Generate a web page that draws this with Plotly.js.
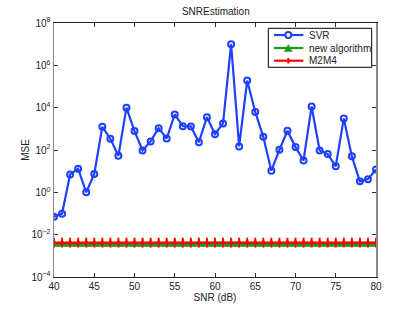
<!DOCTYPE html>
<html><head><meta charset="utf-8">
<script src="https://cdn.plot.ly/plotly-3.0.1.min.js"></script>
<style>html,body{margin:0;padding:0;background:#fff}#c{width:415px;height:312px}</style>
</head><body><div id="c"></div>
<script>
var snr = [40,41,42,43,44,45,46,47,48,49,50,51,52,53,54,55,56,57,58,59,60,61,62,63,64,65,66,67,68,69,70,71,72,73,74,75,76,77,78,79,80];
var svr = [0.07,0.098,7,13,1.0,7.3,1250,340,53,10000,780,96,255,1080,350,4800,1340,1300,235,3550,560,1800,1.0e7,148,1.9e5,6300,420,10.5,102,810,137,32,11400,96,64,17,3100,50,3.3,4.2,12];
var newAlg = snr.map(function(){return 0.0035;});
var m2m4 = snr.map(function(){return 0.0042;});
var yTickVals = [1e-4,1e-2,1,1e2,1e4,1e6,1e8];
var yTickText = ['10<sup>−4</sup>','10<sup>−2</sup>','10<sup>0</sup>','10<sup>2</sup>','10<sup>4</sup>','10<sup>6</sup>','10<sup>8</sup>'];
var seriesNames = ['SVR','new algorithm','M2M4'];
var colors = ['#2040ff','#1a9e1a','#ff0000'];
var font = 'Liberation Sans, Arial, sans-serif';
var traces = [
 {x:snr,y:svr,name:seriesNames[0],mode:'lines+markers',line:{color:colors[0],width:2.2},
  marker:{symbol:'circle-open',size:6,color:colors[0],line:{width:2,color:colors[0]}}},
 {x:snr,y:newAlg,name:seriesNames[1],mode:'lines+markers',line:{color:colors[1],width:2.5},
  marker:{symbol:'triangle-up',size:10,color:colors[1]}},
 {x:snr,y:m2m4,name:seriesNames[2],mode:'lines+markers',line:{color:colors[2],width:2},
  marker:{symbol:'cross-thin-open',size:7,color:colors[2],line:{width:2,color:colors[2]}}}
];
// custom legend (paper coords)
var L = 54, W = 322, B = 277, H = 254;
function px(x){return (x-L)/W;} function py(y){return (B-y)/H;}
var shapes = [
 {type:'rect',xref:'paper',yref:'paper',x0:px(268.3),x1:px(371.7),y0:py(67.3),y1:py(28.3),line:{color:'#000',width:1},fillcolor:'#fff',layer:'above'}
];
var annotations = [];
var rowY = [35,48,60.7];
for (var i=0;i<3;i++){
  shapes.push({type:'line',xref:'paper',yref:'paper',x0:px(274),x1:px(303.3),y0:py(rowY[i]),y1:py(rowY[i]),line:{color:colors[i],width:2.2},layer:'above'});
  annotations.push({xref:'paper',yref:'paper',x:px(307),y:py(rowY[i]),xanchor:'left',yanchor:'middle',text:seriesNames[i],showarrow:false,font:{size:10,family:font,color:'#222'}});
}
shapes.push({type:'circle',xref:'paper',yref:'paper',x0:px(285.3),x1:px(291.3),y0:py(38),y1:py(32),line:{color:colors[0],width:2},fillcolor:'#fff',layer:'above'});
shapes.push({type:'path',xref:'paper',yref:'paper',path:'M '+px(284.3)+' '+py(51.5)+' L '+px(292.3)+' '+py(51.5)+' L '+px(288.3)+' '+py(44.5)+' Z',line:{color:colors[1],width:0.5},fillcolor:colors[1],layer:'above'});
shapes.push({type:'line',xref:'paper',yref:'paper',x0:px(288.3),x1:px(288.3),y0:py(63.5),y1:py(58),line:{color:colors[2],width:2},layer:'above'});

var layout = {
 width:415,height:312,margin:{l:54,r:39,t:23,b:35},
 paper_bgcolor:'#fff',plot_bgcolor:'#fff',
 font:{family:font,size:9,color:'#222'},
 title:{text:'SNREstimation',font:{size:10,family:font,color:'#222'},x:0.52,xanchor:'center',y:0.975,yanchor:'top'},
 showlegend:false,
 shapes:shapes, annotations:annotations,
 xaxis:{range:[40,80],tick0:40,dtick:5,ticks:'inside',ticklen:4,tickcolor:'#333',mirror:'ticks',
  showline:true,linecolor:'#222',linewidth:1,showgrid:false,zeroline:false,
  tickfont:{size:10,family:font,color:'#222'},
  title:{text:'SNR (dB)',font:{size:10,family:font,color:'#222'},standoff:2}},
 yaxis:{type:'log',range:[-4,8],tickmode:'array',tickvals:yTickVals,ticktext:yTickText,ticks:'inside',ticklen:4,tickcolor:'#333',mirror:'ticks',
  showline:true,linecolor:'#888',linewidth:1.5,showgrid:false,zeroline:false,
  tickfont:{size:10,family:font,color:'#222'},
  title:{text:'MSE',font:{size:10,family:font,color:'#222'},standoff:0}}
};
Plotly.newPlot('c',traces,layout,{staticPlot:true,displayModeBar:false});
</script></body></html>
